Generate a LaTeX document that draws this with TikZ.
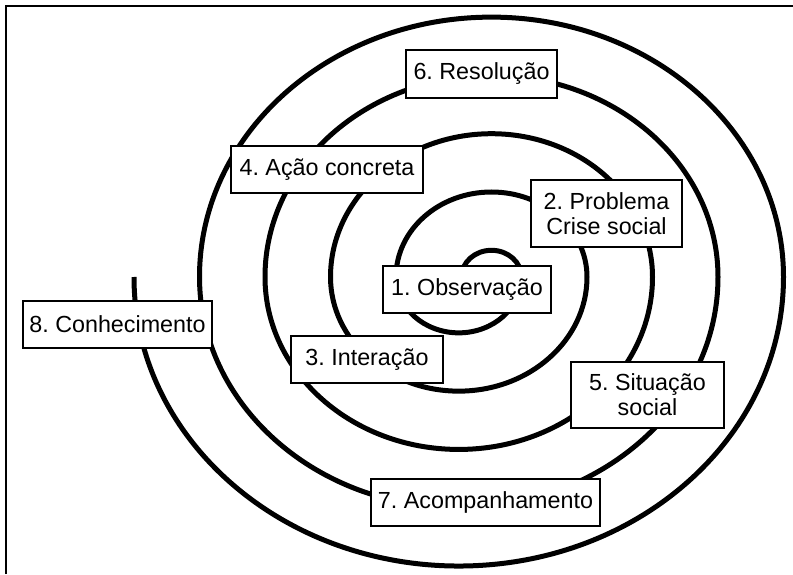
\documentclass[tikz,border=0pt]{standalone}
\usepackage{fontspec}
\setmainfont{Liberation Sans}
\frenchspacing
\begin{document}
\begin{tikzpicture}[x=1pt,y=1pt,
  spiral/.style={line width=5pt,line cap=butt,line join=round},
  stagebox/.style={draw,line width=2.5pt,fill=white,inner sep=0pt,align=center,
    font=\fontsize{23.3}{25}\selectfont\frenchspacing},
  frame/.style={line width=2pt}]
\useasboundingbox (0,0) rectangle (793,574);
% frame
\coordinate (fa) at (6,0);
\coordinate (fb) at (6,568);
\coordinate (fc) at (793,568);
\draw[frame] (fa) -- (fb) -- (fc);
% spiral
\coordinate (s0) at (461.5,297);
\draw[spiral] (s0)
  arc[start angle=180,end angle=0,x radius=30pt,y radius=26.7pt]
  arc[start angle=0,end angle=-180,x radius=62.75pt,y radius=55.85pt]
  arc[start angle=180,end angle=0,x radius=95.5pt,y radius=85pt]
  arc[start angle=0,end angle=-180,x radius=128.25pt,y radius=114.14pt]
  arc[start angle=180,end angle=0,x radius=161pt,y radius=143.29pt]
  arc[start angle=0,end angle=-180,x radius=193.75pt,y radius=172.44pt]
  arc[start angle=180,end angle=0,x radius=226.5pt,y radius=201.59pt]
  arc[start angle=0,end angle=-180,x radius=259.25pt,y radius=230.73pt]
  arc[start angle=180,end angle=0,x radius=292pt,y radius=259.88pt]
  arc[start angle=0,end angle=-180,x radius=324.75pt,y radius=289.03pt];
% boxes
\node[stagebox,minimum width=151pt,minimum height=48pt] (n6) at (481.5,500) {6. Resolução};
\node[stagebox,minimum width=192pt,minimum height=47pt] (n4) at (327,404.5) {4. Ação concreta};
\node[stagebox,minimum width=151pt,minimum height=67pt] (n2) at (606.5,360.5) {2. Problema\\Crise social};
\node[stagebox,minimum width=168pt,minimum height=47pt] (n1) at (467,284.5) {1. Observação};
\node[stagebox,minimum width=189pt,minimum height=47pt] (n8) at (117.5,249.5) {8. Conhecimento};
\node[stagebox,minimum width=152pt,minimum height=47pt] (n3) at (367,214.5) {3. Interação};
\node[stagebox,minimum width=153pt,minimum height=66pt] (n5) at (647.5,179) {5. Situação\\social};
\node[stagebox,minimum width=229pt,minimum height=47pt] (n7) at (485.5,71.5) {7. Acompanhamento};
\end{tikzpicture}
\end{document}
